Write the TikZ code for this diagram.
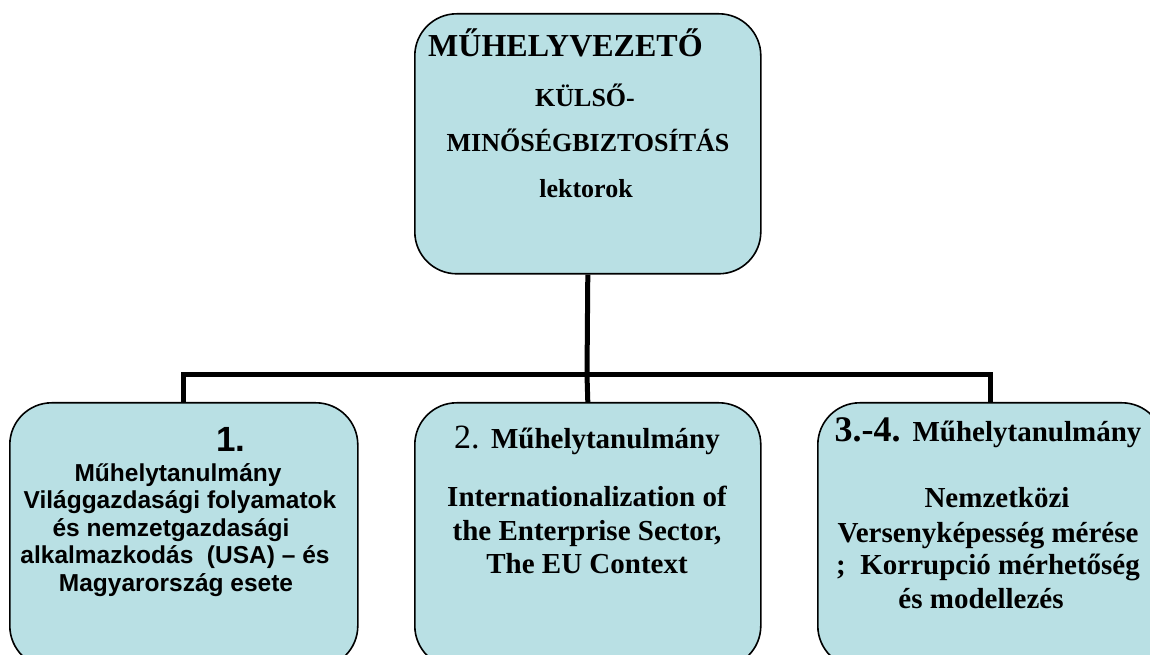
\documentclass[tikz,border=0pt]{standalone}
\usepackage{fontspec}
\setmainfont{Liberation Serif}
\newfontfamily\arialfont{Liberation Sans}
\definecolor{boxfill}{RGB}{185,224,228}
\tikzset{
  orgbox/.style={draw=black, line width=1.6pt, fill=boxfill, rounded corners=42pt, inner sep=0pt, anchor=north west},
  conn/.style={line width=5pt, line join=miter},
  txt/.style={inner sep=0pt, anchor=base},
  sz/.style={font=\fontsize{#1}{#1}\selectfont\bfseries},
  asz/.style={font=\fontsize{#1}{#1}\selectfont\arialfont\bfseries}
}
\begin{document}
\begin{tikzpicture}[x=1pt,y=1pt]
\useasboundingbox (0,0) rectangle (1150,655);
\clip (0,0) rectangle (1150,655);
\fill[white] (0,0) rectangle (1150,655);

% boxes
\node[orgbox, minimum width=346pt, minimum height=260pt] (top) at (414,642) {};
\node[orgbox, minimum width=348pt, minimum height=265pt] (b1) at (9,253) {};
\node[orgbox, minimum width=346pt, minimum height=265pt] (b2) at (414,253) {};
\node[orgbox, minimum width=346pt, minimum height=265pt] (b3) at (817,253) {};

% connectors
\coordinate (bus) at (587,280);
\draw[conn] (top.south) -- (bus);
\draw[conn] (b1.north) |- (bus) -| (b3.north);
\draw[conn] (b2.north) -- (bus);

% top box text
\node[txt, anchor=base west, sz=32] (t1) at (428,598) {MŰHELYVEZETŐ};
\node[txt, sz=26] (t2) at (585,548) {KÜLSŐ-};
\node[txt, sz=26] (t3) at (588,503) {MINŐSÉGBIZTOSÍTÁS};
\node[txt, sz=26] (t4) at (586,457) {lektorok};

% left box text
\node[txt, asz=35] (l0) at (231,203) {1.};
\node[txt, asz=24.5] (l1) at (178,173) {Műhelytanulmány};
\node[txt, asz=24.5] (l2) at (180,146) {Világgazdasági folyamatok};
\node[txt, asz=24.5] (l3) at (171,118) {és nemzetgazdasági};
\node[txt, asz=24.5] (l4) at (175,91) {alkalmazkodás\ \ (USA) – és};
\node[txt, asz=24.5] (l5) at (176,63) {Magyarország esete};

% middle box text
\node[txt] (m0) at (587,206) {{\fontsize{34}{34}\selectfont 2. }{\fontsize{29}{29}\selectfont\bfseries Műhelytanulmány}};
\node[txt, sz=29] (m1) at (587,148) {Internationalization of};
\node[txt, sz=29] (m2) at (587,114) {the Enterprise Sector,};
\node[txt, sz=29] (m3) at (587,81) {The EU Context};

% right box text
\node[txt] (r0) at (988,213) {{\fontsize{36}{36}\selectfont\bfseries 3.-4. }{\fontsize{29}{29}\selectfont\bfseries Műhelytanulmány}};
\node[txt, sz=29] (r1) at (997,147) {Nemzetközi};
\node[txt, sz=29] (r2) at (988,112) {Versenyképesség mérése};
\node[txt, sz=29] (r3) at (988,80) {;\ \ Korrupció mérhetőség};
\node[txt, sz=29] (r4) at (981,46) {és modellezés};
\end{tikzpicture}
\end{document}
